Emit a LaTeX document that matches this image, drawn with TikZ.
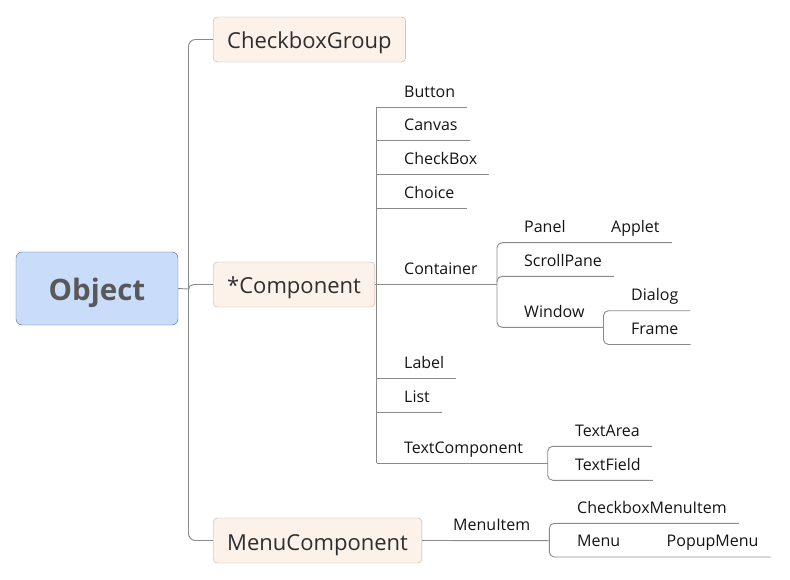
\documentclass[tikz,border=0pt]{standalone}
\usepackage{fontspec}
\setmainfont{Open Sans}
\usepackage{xcolor}
\usepackage{tikz}
\usetikzlibrary{positioning,calc}
\definecolor{rootfill}{HTML}{C9DCFA}
\definecolor{rootline}{HTML}{4C6A9C}
\definecolor{roottext}{HTML}{585858}
\definecolor{topicfill}{HTML}{FDF2EA}
\definecolor{topicline}{HTML}{BDAEA3}
\definecolor{topictext}{HTML}{2E2E2E}
\definecolor{linegrey}{HTML}{8A8A8A}
\definecolor{leaftext}{HTML}{141414}

\begin{document}
\begin{tikzpicture}[x=1pt, y=-1pt,
		root/.style={draw=rootline, fill=rootfill, rounded corners=6, minimum width=162, minimum height=73,
		font=\bfseries\fontsize{29.5}{36}\selectfont, text=roottext, text height=25, text depth=0},
		topic/.style={draw=topicline, fill=topicfill, rounded corners=4, minimum height=45, inner xsep=14,
		anchor=west, font=\fontsize{22}{26}\selectfont, text=topictext, text height=19, text depth=0},
		leaf/.style={anchor=south west, inner xsep=12, inner ysep=0, text depth=10,
		font=\fontsize{16}{18}\selectfont, text=leaftext},
		branch/.style={draw=linegrey, line width=0.9}]
		\useasboundingbox (0,0) rectangle (790,580);
		% root and first level
		\node[root] (object) at (97,288.5) {Object};
		\node[topic] (cbgroup) at (213,39.5) {CheckboxGroup};
		\node[topic] (comp) at (213,284.5) {*Component};
		\node[topic] (menucomp) at (213,540.5) {MenuComponent};
		\coordinate (spine) at (188.5,289);
		\draw[branch] (object.east) -- (spine);
		\draw[branch, rounded corners=7] (cbgroup.west) -| (spine) |- (menucomp.west);
		\draw[branch, rounded corners=5] ($(spine)+(0,3)$) |- (comp.west);
		% children of *Component
		\coordinate (cspine) at (376.5,284.5);
		\foreach \n/\t/\y in {button/Button/107.3, canvas/Canvas/140.7, checkbox/CheckBox/174.3,
				choice/Choice/208.3, container/Container/284.5, label/Label/378.5, list/List/412.3,
				textcomp/TextComponent/463.3}
			\node[leaf] (\n) at (392,\y) {\t};
		\draw[branch] (comp.east) -- (cspine);
		\draw[branch] (button.south east) -- (cspine |- button.south) -- (cspine |- textcomp.south);
		\foreach \n in {canvas,checkbox,choice,label,list}
			\draw[branch] (cspine |- \n.south) -- (\n.south east);
		% Container
		\coordinate (kspine) at (497,284.5);
		\draw[branch] (cspine) -- (kspine);
		\node[leaf] (panel) at (512,242.7) {Panel};
		\node[leaf] (applet) at (599,242.7) {Applet};
		\node[leaf] (scrollpane) at (512,276.3) {ScrollPane};
		\node[leaf] (window) at (512,327.3) {Window};
		\coordinate (wspine) at (603.5,327.3);
		\draw[branch, rounded corners=5] (applet.south east) -- (kspine |- panel.south)
			-- (kspine |- window.south) -- (wspine);
		\draw[branch, rounded corners=5] ($(kspine |- scrollpane.south)+(0,6)$) |- (scrollpane.south east);
		\node[leaf] (dialog) at (619,310.7) {Dialog};
		\node[leaf] (frame) at (619,344.5) {Frame};
		\draw[branch, rounded corners=5] (dialog.south east) -- (wspine |- dialog.south)
			-- (wspine |- frame.south) -- (frame.south east);
		% TextComponent
		\coordinate (tspine) at (547.7,463.3);
		\draw[branch] (cspine |- textcomp.south) -- (tspine);
		\node[leaf] (textarea) at (563,446.3) {TextArea};
		\node[leaf] (textfield) at (563,480.3) {TextField};
		\draw[branch, rounded corners=5] (textarea.south east) -- (tspine |- textarea.south)
			-- (tspine |- textfield.south) -- (textfield.south east);
		% MenuComponent
		\node[leaf] (menuitem) at (441,540.7) {MenuItem};
		\coordinate (mspine) at (549.3,540.7);
		\draw[branch] (menucomp.east) -- (mspine);
		\node[leaf] (cbmenuitem) at (565,523.3) {CheckboxMenuItem};
		\node[leaf] (menu) at (565,557) {Menu};
		\node[leaf] (popupmenu) at (654.5,557) {PopupMenu};
		\draw[branch, rounded corners=5] (cbmenuitem.south east) -- (mspine |- cbmenuitem.south)
			-- (mspine |- menu.south) -- (popupmenu.south east);
	\end{tikzpicture}
\end{document}
